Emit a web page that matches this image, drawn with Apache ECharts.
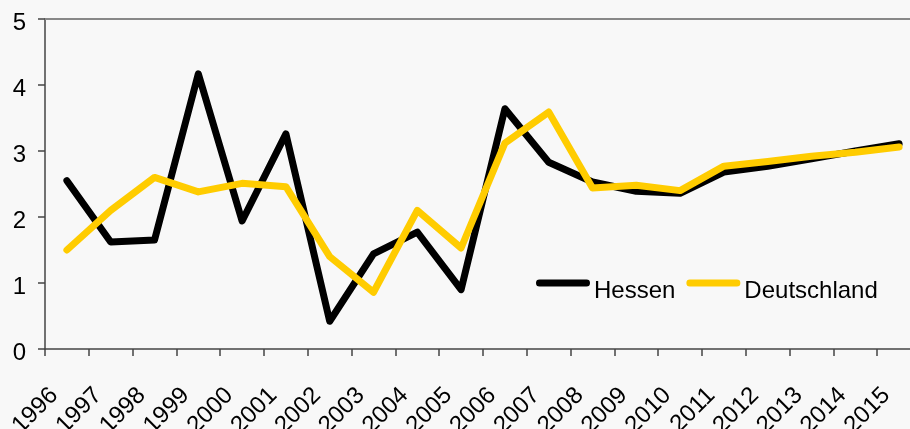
<!DOCTYPE html>
<html>
<head>
<meta charset="utf-8">
<script src="https://cdn.jsdelivr.net/npm/echarts@6/dist/echarts.min.js"></script>
<style>
html,body{margin:0;padding:0;background:#f8f8f8;}
#chart{width:910px;height:429px;}
</style>
</head>
<body>
<div id="chart"></div>
<script>
const years = ['1996','1997','1998','1999','2000','2001','2002','2003','2004','2005','2006','2007','2008','2009','2010','2011','2012','2013','2014','2015'];
const hessen = [2.55,1.62,1.65,4.17,1.94,3.26,0.42,1.44,1.77,0.9,3.64,2.83,2.53,2.39,2.36,2.68,2.77,2.88,3.0,3.11];
const deutschland = [1.5,2.1,2.6,2.38,2.51,2.46,1.4,0.86,2.1,1.53,3.12,3.59,2.44,2.48,2.4,2.77,2.84,2.92,2.98,3.06];
const yTicks = [0,1,2,3,4,5];

const chart = echarts.init(document.getElementById('chart'), null, {renderer:'canvas'});
const font = '"Liberation Sans", Arial, Helvetica, sans-serif';
const legendIcon = 'path://M3.5,0 L50.5,0 A3.5,3.5 0 0 1 50.5,7 L3.5,7 A3.5,3.5 0 0 1 3.5,0 Z M0,23 L54,23 L54,23.001 L0,23.001 Z';
chart.setOption({
  backgroundColor:'#f8f8f8',
  animation:false,
  grid:{left:45, top:19, width:876, height:330, containLabel:false, outerBoundsMode:'none'},
  legend:{
    left:531, top:274,
    icon:legendIcon, itemWidth:54, itemHeight:23, itemGap:11,
    itemStyle:{borderWidth:0},
    textStyle:{fontFamily:font, fontSize:24, color:'#000', padding:[0,0,0,-1]},
    data:['Hessen','Deutschland']
  },
  xAxis:[{
    type:'category', data:years, boundaryGap:true,
    axisLine:{lineStyle:{color:'#444', width:1.5}},
    axisTick:{show:true, length:7, lineStyle:{color:'#444', width:1.5}},
    axisLabel:{rotate:45, fontFamily:font, fontSize:24, color:'#000', margin:30, padding:[0,18,0,0], interval:0},
    splitLine:{show:false}
  },{
    type:'category', data:years, position:'top',
    axisLine:{lineStyle:{color:'#888', width:2}},
    axisTick:{show:false}, axisLabel:{show:false}
  }],
  yAxis:{
    type:'value', min:yTicks[0], max:yTicks[yTicks.length-1], interval:1,
    axisLine:{show:true, lineStyle:{color:'#444', width:1.5}},
    axisTick:{show:true, length:7, lineStyle:{color:'#444', width:1.5}},
    axisLabel:{fontFamily:font, fontSize:24, color:'#000', margin:19, verticalAlign:'top', lineHeight:8},
    splitLine:{show:false}
  },
  series:[{
    name:'Hessen', type:'line', data:hessen, showSymbol:false, symbol:'none',
    itemStyle:{color:'#000'},
    lineStyle:{color:'#000', width:7, cap:'round', join:'round'}
  },{
    name:'Deutschland', type:'line', data:deutschland, showSymbol:false, symbol:'none',
    itemStyle:{color:'#ffcc00'},
    lineStyle:{color:'#ffcc00', width:7, cap:'round', join:'round'}
  }]
});
</script>
</body>
</html>
